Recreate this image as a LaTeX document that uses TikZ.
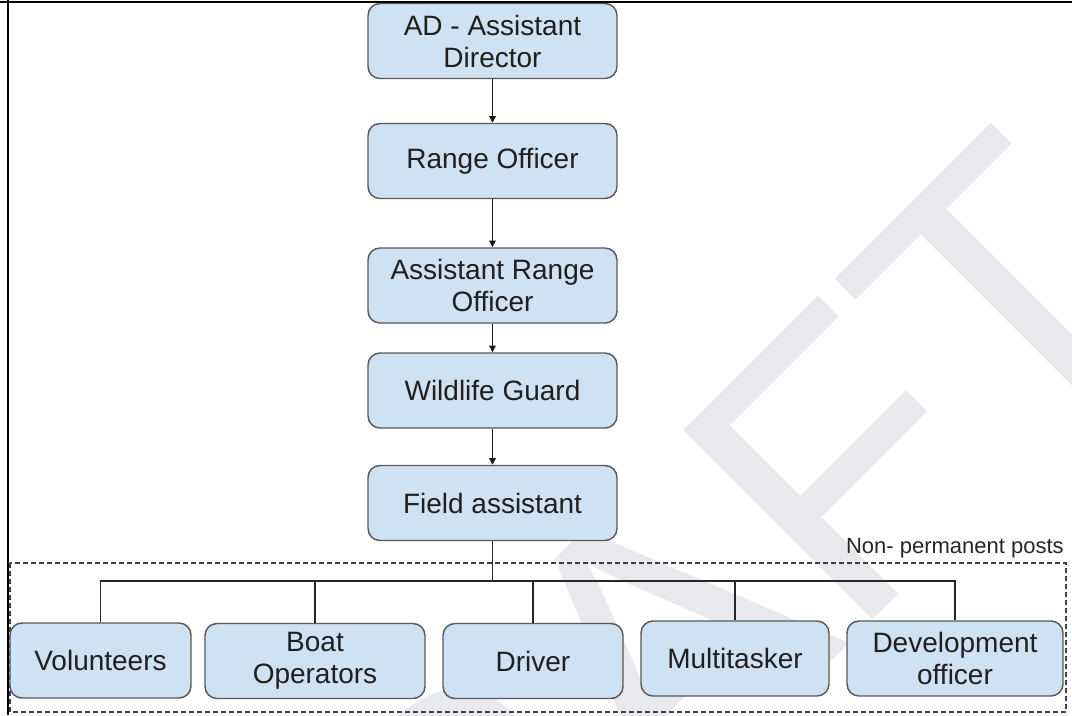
\documentclass[tikz,border=0pt]{standalone}
\usepackage{fontspec}
\setmainfont{Liberation Sans}
\usetikzlibrary{arrows.meta}
\definecolor{boxfill}{HTML}{CFE2F3}
\definecolor{boxline}{HTML}{595959}
\definecolor{wmcol}{HTML}{E8E9EC}
\definecolor{dashcol}{HTML}{404040}
\begin{document}
\begin{tikzpicture}[x=0.75pt,y=-0.75pt,
  post/.style={draw=boxline, line width=1.1pt, fill=boxfill, rounded corners=9pt,
    minimum height=56.25pt, align=center, inner sep=2pt, text=black!88,
    font=\fontsize{21}{24}\selectfont},
  arr/.style={draw=black!90, line width=1pt, -{Triangle[length=5pt,width=5pt]}},
  bus/.style={draw=black!85, line width=0.9pt},
  grp/.style={draw=dashcol, line width=0.8pt, dash pattern=on 3.75pt off 2.25pt}]
\useasboundingbox (0,0) rectangle (1072,715);
% watermark
\begin{scope}
  \clip (0,0) rectangle (1072,715);
  \node[text=wmcol, rotate=45, anchor=base east, inner sep=0pt,
        font=\fontsize{292}{292}\selectfont] (wmark) at (1187,306) {DRAFT};
\end{scope}
% page border
\draw[line width=1.8pt] (0,2) -- (1072,2);
\draw[line width=1.5pt] (7.5,0) -- (7.5,715);
% group of non-permanent posts
\draw[grp] (10,563) rectangle (1066,712);
\node[anchor=base east, inner sep=0pt, text=black!85,
      font=\fontsize{16.5}{18}\selectfont] (np) at (1064,553) {Non- permanent posts};
% chain
\node[post, minimum width=186.75pt] (ad) at (492.5,41) {AD - Assistant\\Director};
\node[post, minimum width=186.75pt] (ro) at (492.5,161) {Range Officer};
\node[post, minimum width=186.75pt] (aro) at (492.5,285.5) {Assistant Range\\Officer};
\node[post, minimum width=186.75pt] (wg) at (492.5,390.5) {Wildlife Guard};
\node[post, minimum width=186.75pt] (fa) at (492.5,503) {Field assistant};
\draw[arr] (ad) -- (ro);
\draw[arr] (ro) -- (aro);
\draw[arr] (aro) -- (wg);
\draw[arr] (wg) -- (fa);
% bottom row
\node[post, minimum width=135.75pt] (vol) at (100.5,660.5) {Volunteers};
\node[post, minimum width=165pt] (boat) at (315,661) {Boat\\Operators};
\node[post, minimum width=135pt] (drv) at (533,661) {Driver};
\node[post, minimum width=141pt] (mt) at (735,658.5) {Multitasker};
\node[post, minimum width=162pt] (dev) at (955,658.5) {Development\\officer};
% bus
\coordinate (busy) at (0,581);
\coordinate (j) at (fa.south |- busy);
\draw[bus] (fa.south) -- (j);
\draw[bus] (j) -| (vol.north);
\draw[bus] (j) -| (boat.north);
\draw[bus] (j) -| (drv.north);
\draw[bus] (j) -| (mt.north);
\draw[bus] (j) -| (dev.north);
\end{tikzpicture}
\end{document}
